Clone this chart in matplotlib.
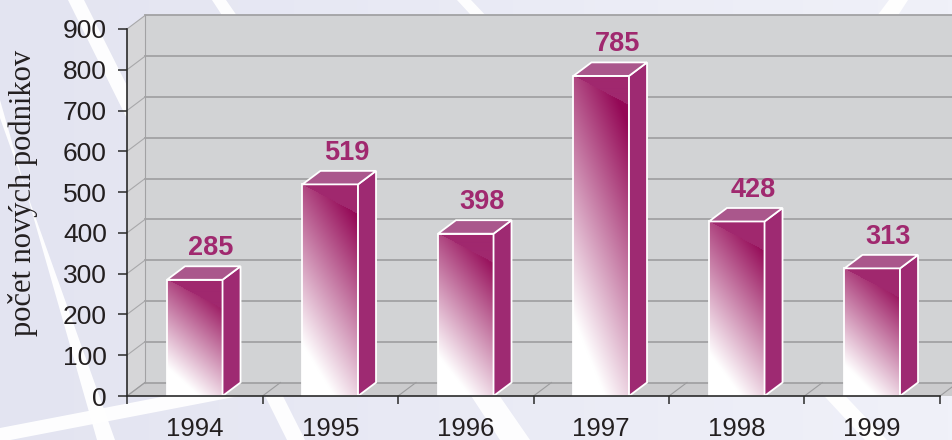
import numpy as np
import matplotlib
matplotlib.use('Agg')
import matplotlib.pyplot as plt
from matplotlib.patches import Polygon, Rectangle
from matplotlib.colors import to_rgb

# data
years = ['1994', '1995', '1996', '1997', '1998', '1999']
counts = [285, 519, 398, 785, 428, 313]
y_ticks = [0, 100, 200, 300, 400, 500, 600, 700, 800, 900]
y_label = 'počet nových podnikov'

W, H, DPI = 952, 440, 100
fig = plt.figure(figsize=(W / DPI, H / DPI), dpi=DPI)

# ---------------------------------------------------------------- background
bg = fig.add_axes([0, 0, 1, 1], zorder=-10)
bg.set_xlim(0, W)
bg.set_ylim(H, 0)
bg.axis('off')
c0 = np.array(to_rgb('#e3e4f1'))
c1 = np.array(to_rgb('#f0f1f9'))
g = np.linspace(0, 1, 256)[None, :, None]
bg.imshow(c0 + (c1 - c0) * g, extent=(0, W, H, 0), aspect='auto')
stripes = [
    [(68, 0), (84, 0), (305, 440), (287, 440)],
    [(212, 0), (226, 0), (530, 440), (500, 440)],
    [(457, 0), (471, 0), (887, 440), (865, 440)],
    [(0, 100), (0, 118), (115, 440), (97, 440)],
    [(0, 428), (0, 442), (260, 392), (260, 378)],
    [(889, 0), (908, 0), (895, 20), (874, 20)],
]
for s in stripes:
    bg.add_patch(Polygon(s, closed=True, fc='white', ec='none', alpha=0.95))

# ---------------------------------------------------------------- main axes
x0px, x1px = 127, 940
y0px, y1px = 396, 29
ax = fig.add_axes([x0px / W, 1 - y0px / H, (x1px - x0px) / W, (y0px - y1px) / H])
ax.set_facecolor('none')
ax.set_xlim(-0.5, 5.5)
ax.set_ylim(0, 900)

px_x = (x1px - x0px) / 6.0      # pixels per x unit
px_y = (y0px - y1px) / 900.0    # pixels per y unit
ddx = 18 / px_x                 # depth offset in data units
ddy = 13.5 / px_y

wall = '#d2d3d5'
grid = '#a2a2a4'
# back wall
ax.add_patch(Rectangle((-0.5 + ddx, ddy), 6.2, 900, fc=wall, ec='none',
                       clip_on=False, zorder=0))
# left wall
ax.add_patch(Polygon([(-0.5, 0), (-0.5 + ddx, ddy), (-0.5 + ddx, 900 + ddy), (-0.5, 900)],
                     fc='#d6d6d8', ec='none', clip_on=False, zorder=0))
# floor
ax.add_patch(Polygon([(-0.5, 0), (5.7, 0), (5.7 + ddx, ddy), (-0.5 + ddx, ddy)],
                     fc='#cbcbcd', ec='none', clip_on=False, zorder=0))
for v in y_ticks:
    ax.plot([-0.5 + ddx, 5.7 + ddx], [v + ddy, v + ddy], color=grid, lw=1.3,
            clip_on=False, zorder=0.5)
    ax.plot([-0.5, -0.5 + ddx], [v, v + ddy], color='#a8a8aa', lw=0.8,
            clip_on=False, zorder=0.5)
ax.plot([-0.5 + ddx, -0.5 + ddx], [ddy, 900 + ddy], color=grid, lw=0.8,
        clip_on=False, zorder=0.5)
for b in np.arange(-0.5, 6.0, 1.0):
    ax.plot([b, b + ddx], [0, ddy], color='#9c9c9e', lw=0.8, clip_on=False, zorder=0.5)

# ---------------------------------------------------------------- bars
dark = np.array(to_rgb('#940856'))
flat = np.array(to_rgb('#a0286e'))
white = np.array([1.0, 1.0, 1.0])
bw = 0.41


def front_image(wpx, hpx):
    yy, xx = np.mgrid[0:hpx, 0:wpx].astype(float)
    u = xx / max(wpx - 1, 1)
    t = 1 - yy / max(hpx - 1, 1)
    s = 0.3 * u + 0.7 * t
    c = np.clip((s - 0.17) / 0.72, 0, 1)
    img = white + (dark - white) * c[..., None]
    seam = yy < 0.53 * xx
    img[seam] = flat
    return img


for i, v in enumerate(counts):
    xl, xr = i - bw / 2, i + bw / 2
    wpx = int(round(bw * px_x))
    hpx = max(int(round(v * px_y)), 2)
    front = Rectangle((xl, 0), bw, v, fc='none', ec='white', lw=1.3, zorder=3)
    ax.add_patch(front)
    im = ax.imshow(front_image(wpx, hpx), extent=(xl, xr, 0, v), aspect='auto',
                   interpolation='bilinear', zorder=2)
    im.set_clip_path(front)
    ax.add_patch(Polygon([(xr, 0), (xr + ddx, ddy), (xr + ddx, v + ddy), (xr, v)],
                         fc='#9e2a72', ec='white', lw=1.3, zorder=3, clip_on=False))
    ax.add_patch(Polygon([(xl, v), (xr, v), (xr + ddx, v + ddy), (xl + ddx, v + ddy)],
                         fc='#aa578c', ec='white', lw=1.3, zorder=3, clip_on=False))
    ax.text(i + ddx * 0.9, v + ddy + 45, str(v), ha='center', va='center',
            fontsize=19.5, fontweight='bold', color='#a0296f',
            family='Liberation Sans', clip_on=False, zorder=4)

# ---------------------------------------------------------------- axes styling
for side in ['top', 'right']:
    ax.spines[side].set_visible(False)
for side in ['left', 'bottom']:
    ax.spines[side].set_color('#2a2a2a')
    ax.spines[side].set_linewidth(1.2)
    ax.spines[side].set_zorder(5)

ax.set_yticks(y_ticks)
ax.set_yticklabels([str(v) for v in y_ticks])
ax.tick_params(axis='y', length=6.5, width=1.1, color='#2a2a2a', pad=8,
               labelsize=19, labelcolor='#231f20')
ax.set_xticks(range(len(years)))
ax.set_xticklabels(years)
ax.set_xticks(np.arange(-0.5, 6.0, 1.0), minor=True)
ax.tick_params(axis='x', which='major', length=0, pad=15, labelsize=18.5,
               labelcolor='#231f20')
ax.tick_params(axis='x', which='minor', length=6, width=1.1, color='#2a2a2a')
for lab in ax.get_xticklabels() + ax.get_yticklabels():
    lab.set_family('Liberation Sans')

fig.text(23 / W, 1 - 193 / H, y_label, rotation=90, ha='center', va='center',
         family='Liberation Serif', fontsize=22, color='#231f20')

fig.savefig('out.png', dpi=DPI)
